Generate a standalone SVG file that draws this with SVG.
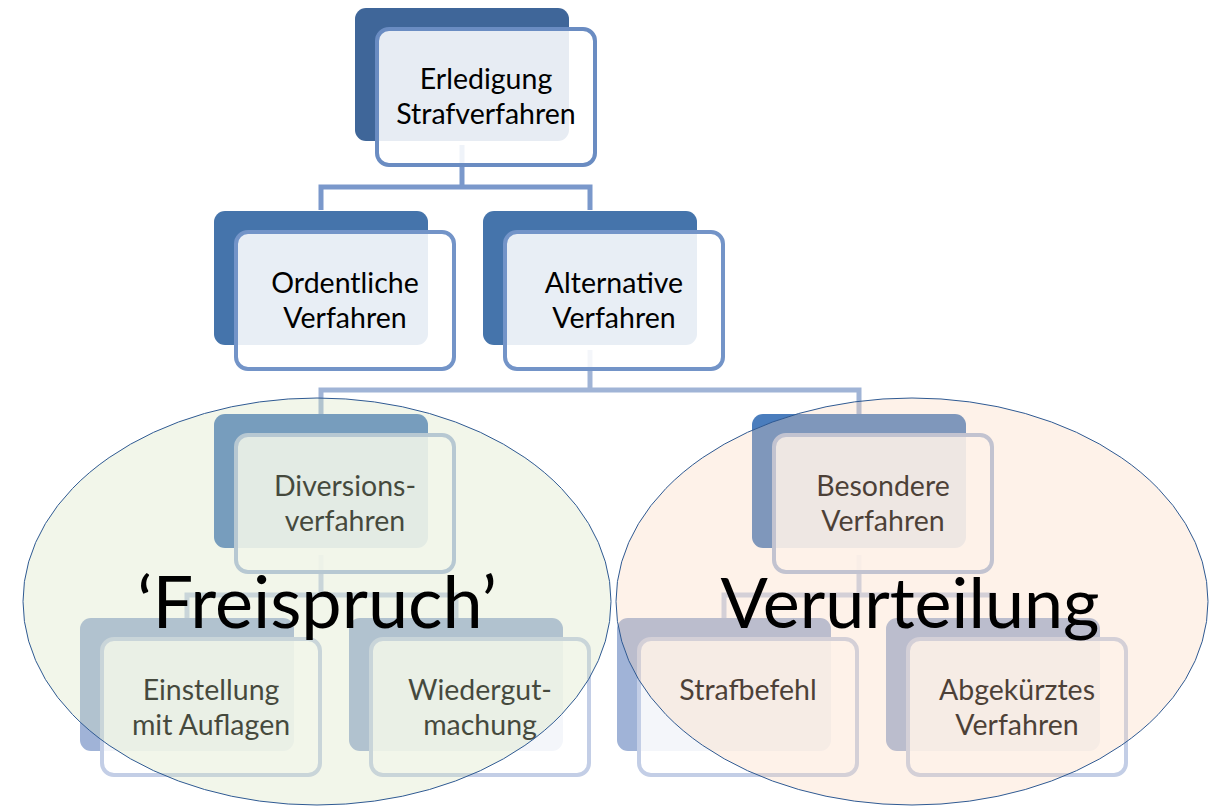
<svg xmlns="http://www.w3.org/2000/svg" width="1217" height="806" viewBox="0 0 1217 806">
<style>
.bk{stroke:none}
.fr{fill:#ffffff;fill-opacity:0.88;stroke-width:4}
.t{font-family:Lato,"Liberation Sans",sans-serif;font-size:28.5px;fill:#000;text-anchor:middle}
.c{fill:none;stroke-width:5;stroke-linejoin:miter;stroke-linecap:butt}
.big{font-family:Lato,"Liberation Sans",sans-serif;fill:#000;text-anchor:middle}
</style>
<rect width="1217" height="806" fill="#ffffff"/>
<g id="connectors">
<polyline class="c" stroke="#7a98cb" points="462,145 462,187"/>
<polyline class="c" stroke="#7a98cb" points="321,210 321,187 590,187 590,210"/>
<polyline class="c" stroke="#a0b4d6" points="590,350 590,390"/>
<polyline class="c" stroke="#a0b4d6" points="321,414 321,390 859,390 859,414"/>
<polyline class="c" stroke="#c3cfe6" points="321,555 321,595"/>
<polyline class="c" stroke="#c3cfe6" points="187,618 187,595 456,595 456,618"/>
<polyline class="c" stroke="#c3cfe6" points="859,555 859,595"/>
<polyline class="c" stroke="#c3cfe6" points="724,618 724,595 993,595 993,618"/>
</g>
<g id="n-erledigung">
<rect class="bk" x="355" y="8" width="214" height="133" rx="11" fill="#3f6699"/>
<rect class="fr" x="377" y="29" width="218" height="136" rx="12" stroke="#6a8cc2"/>
<text class="t" x="486" y="89">Erledigung</text>
<text class="t" x="486" y="124">Strafverfahren</text>
</g>
<g id="n-ordentliche">
<rect class="bk" x="214" y="211" width="214" height="134" rx="11" fill="#4574ab"/>
<rect class="fr" x="236" y="232" width="218" height="137" rx="12" stroke="#7394c8"/>
<text class="t" x="345" y="293">Ordentliche</text>
<text class="t" x="345" y="328">Verfahren</text>
</g>
<g id="n-alternative">
<rect class="bk" x="483" y="211" width="214" height="134" rx="11" fill="#4574ab"/>
<rect class="fr" x="505" y="232" width="218" height="137" rx="12" stroke="#7394c8"/>
<text class="t" x="614" y="293">Alternative</text>
<text class="t" x="614" y="328">Verfahren</text>
</g>
<g id="n-diversion">
<rect class="bk" x="214" y="414" width="214" height="134" rx="11" fill="#4a7dbd"/>
<rect class="fr" x="236" y="435" width="218" height="137" rx="12" stroke="#a9bcdc"/>
<text class="t" x="345" y="496">Diversions-</text>
<text class="t" x="345" y="531">verfahren</text>
</g>
<g id="n-besondere">
<rect class="bk" x="752" y="414" width="214" height="134" rx="11" fill="#4a7dbd"/>
<rect class="fr" x="774" y="435" width="218" height="137" rx="12" stroke="#a9bcdc"/>
<text class="t" x="883" y="496">Besondere</text>
<text class="t" x="883" y="531">Verfahren</text>
</g>
<g id="n-einstellung">
<rect class="bk" x="80" y="618" width="214" height="133" rx="11" fill="#a0b3d7"/>
<rect class="fr" x="102" y="639" width="218" height="136" rx="12" stroke="#c3cee6"/>
<text class="t" x="211" y="700">Einstellung</text>
<text class="t" x="211" y="735">mit Auflagen</text>
</g>
<g id="n-wiedergut">
<rect class="bk" x="349" y="618" width="214" height="133" rx="11" fill="#a0b3d7"/>
<rect class="fr" x="371" y="639" width="218" height="136" rx="12" stroke="#c3cee6"/>
<text class="t" x="480" y="700">Wiedergut-</text>
<text class="t" x="480" y="735">machung</text>
</g>
<g id="n-strafbefehl">
<rect class="bk" x="617" y="618" width="214" height="133" rx="11" fill="#a0b3d7"/>
<rect class="fr" x="639" y="639" width="218" height="136" rx="12" stroke="#c3cee6"/>
<text class="t" x="748" y="700">Strafbefehl</text>
</g>
<g id="n-abgekuerzt">
<rect class="bk" x="886" y="618" width="214" height="133" rx="11" fill="#a0b3d7"/>
<rect class="fr" x="908" y="639" width="218" height="136" rx="12" stroke="#c3cee6"/>
<text class="t" x="1017" y="700">Abgekürztes</text>
<text class="t" x="1017" y="735">Verfahren</text>
</g>
<g id="ellipse-freispruch">
<ellipse cx="317" cy="601.5" rx="294" ry="203.5" fill="#d7e4bd" fill-opacity="0.32" stroke="#2f5a93" stroke-width="1"/>
<text class="big" x="317" y="628" font-size="72">‘Freispruch’</text>
</g>
<g id="ellipse-verurteilung">
<ellipse cx="912" cy="601.5" rx="296" ry="203.5" fill="#fcd5b5" fill-opacity="0.3" stroke="#2f5a93" stroke-width="1"/>
<text class="big" x="910" y="628" font-size="70">Verurteilung</text>
</g>
</svg>
